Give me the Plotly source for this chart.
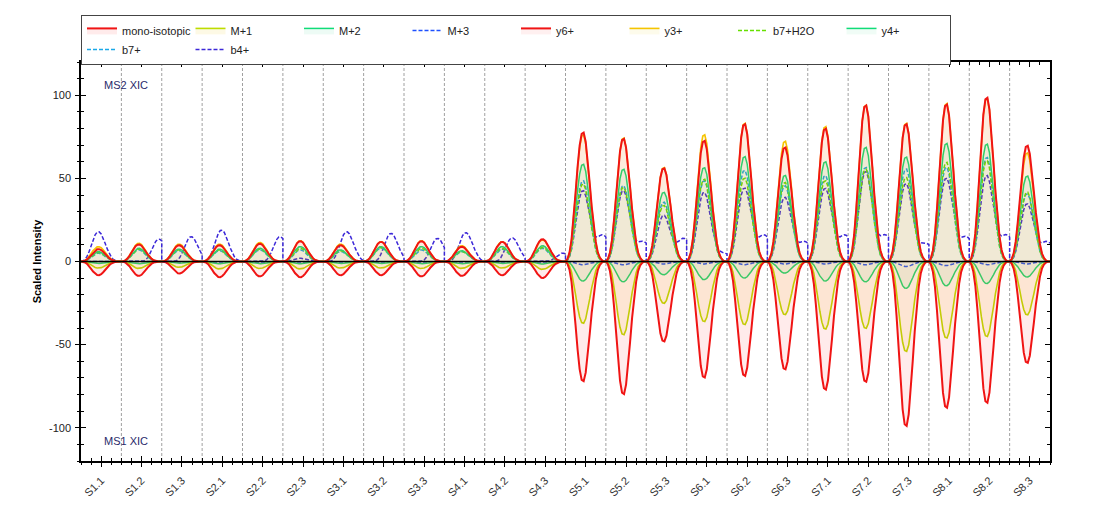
import numpy as np
import plotly.graph_objects as go

SAMPLES = ["S1.1", "S1.2", "S1.3", "S2.1", "S2.2", "S2.3", "S3.1", "S3.2", "S3.3",
           "S4.1", "S4.2", "S4.3", "S5.1", "S5.2", "S5.3", "S6.1", "S6.2", "S6.3",
           "S7.1", "S7.2", "S7.3", "S8.1", "S8.2", "S8.3"]

Y_TICKS = [-100, -50, 0, 50, 100]
Y_TICKTEXT = ["-100", "-50", "0", "50", "100"]

# normalised elution-peak profile across one sample slot
PROFILE = [0, 0.02, 0.07, 0.17, 0.33, 0.53, 0.73, 0.89, 0.98, 0.99, 0.92,
           0.78, 0.60, 0.42, 0.27, 0.15, 0.07, 0.03, 0.01, 0, 0]

# MS2 XIC (positive) peak apexes
Y6 = [7.5, 10.3, 9.8, 9.8, 10.7, 12.3, 9.8, 11.9, 12.3, 8.9, 11.9, 13.5,
      78.3, 74.5, 56.6, 73.3, 83.4, 69.3, 80.7, 94.8, 83.4, 95.4, 99.5, 70.3]
Y3 = [9.0, 11.0, 10.5, 10.5, 11.5, 12.5, 10.5, 12.0, 12.5, 9.5, 12.0, 13.0,
      77.0, 75.0, 57.0, 77.0, 84.0, 73.0, 82.0, 95.0, 84.0, 96.0, 99.0, 66.0]
B7H2O = [5.5, 7.5, 7.0, 7.0, 7.5, 8.0, 6.5, 8.5, 8.0, 6.0, 8.0, 8.5,
         47.0, 45.0, 34.0, 50.0, 50.6, 48.0, 49.0, 56.0, 51.0, 60.2, 61.2, 42.1]
Y4 = [6.0, 8.0, 7.5, 7.5, 8.0, 9.0, 7.0, 9.0, 9.0, 6.5, 9.0, 9.5,
      59.0, 56.0, 42.0, 57.0, 63.7, 52.3, 60.6, 69.3, 63.4, 71.7, 71.3, 51.9]
B7 = [5.0, 7.0, 6.5, 6.5, 7.0, 7.0, 6.0, 8.0, 7.0, 6.0, 7.5, 8.0,
      49.0, 46.0, 36.0, 49.0, 55.4, 46.0, 52.2, 57.1, 56.2, 57.2, 63.2, 41.1]
B4 = [18.0, 13.5, 15.0, 19.0, 15.0, 2.0, 18.0, 17.0, 14.0, 17.5, 14.3, 5.0,
      43.0, 43.0, 28.0, 42.0, 44.6, 39.0, 44.4, 54.6, 47.3, 50.6, 52.2, 35.0]
B4_SHIFT = [0, 10, 6, 1, 10, 0, 3, 5, 8, 2, 5, 10,
            0, 0, 0, 0, 0, 0, 0, 0, 0, 0, 0, 0]
B4_TAIL = [0, 0, 0, 0, 0, 0, 0, 0, 0, 0, 0, 0,
           16, 12, 14, 5, 16, 12, 16, 16, 11, 15, 16, 12]

# MS1 XIC (negative) peak apexes
MONO = [-8.3, -8.7, -7.3, -9.5, -9.0, -9.5, -8.3, -8.3, -9.0, -8.7, -8.3, -10.0,
        -72.7, -80.5, -48.5, -70.5, -69.5, -65.5, -77.8, -73.1, -99.9, -88.8, -85.8, -61.6]
M1 = [-4.0, -4.2, -3.5, -4.5, -4.3, -4.5, -4.0, -4.0, -4.3, -4.2, -4.0, -4.8,
      -37.5, -44.5, -25.4, -36.5, -38.3, -32.3, -41.0, -40.6, -54.6, -46.5, -45.5, -32.4]
M2 = [-1.2, -1.3, -1.0, -1.4, -1.3, -1.4, -1.2, -1.2, -1.3, -1.3, -1.2, -1.5,
      -11.8, -12.3, -8.0, -11.0, -10.0, -7.0, -11.9, -12.3, -16.3, -14.7, -13.3, -9.4]
M3 = [-0.3, -0.3, -0.3, -0.3, -0.3, -0.3, -0.3, -0.3, -0.3, -0.3, -0.3, -0.4,
      -2.0, -2.0, -1.5, -1.5, -2.0, -1.5, -1.5, -2.0, -3.0, -2.5, -2.0, -1.5]

T = np.linspace(0, 1, len(PROFILE))
N = len(PROFILE)


def shifted(s):
    return [0.0] * s + PROFILE[:N - s]


def build(heights, shifts=None, tails=None):
    xs, ys = [], []
    tail_prof = shifted(10)
    for i, h in enumerate(heights):
        prof = shifted(shifts[i] if shifts else 0)
        th = tails[i] if tails else 0
        for k, t in enumerate(T):
            xs.append(i + t)
            ys.append(h * prof[k] + th * tail_prof[k])
    return xs, ys


DASH = "4px,2px"
fig = go.Figure()

series = [
    # name, heights, color, dash, width, fill, rank, shifts, tails
    ("M+3", M3, "#1E50FF", DASH, 1.5, None, 4, None, None),
    ("M+2", M2, "#10DC78", None, 1.5, "rgba(0,200,110,0.07)", 3, None, None),
    ("M+1", M1, "#BEDC00", None, 1.6, "rgba(235,200,0,0.10)", 2, None, None),
    ("mono-isotopic", MONO, "#F01414", None, 2.0, "rgba(255,60,60,0.10)", 1, None, None),
    ("b4+", B4, "#3C28D8", DASH, 1.5, None, 10, B4_SHIFT, B4_TAIL),
    ("b7+", B7, "#1AA8E8", DASH, 1.5, None, 9, None, None),
    ("b7+H2O", B7H2O, "#66E000", DASH, 1.5, None, 7, None, None),
    ("y4+", Y4, "#10DC78", None, 1.5, "rgba(0,200,110,0.06)", 8, None, None),
    ("y3+", Y3, "#F5C400", None, 1.6, "rgba(235,200,0,0.08)", 6, None, None),
    ("y6+", Y6, "#F01414", None, 2.0, "rgba(255,60,60,0.08)", 5, None, None),
]

for name, h, color, dash, w, fill, rank, sh, tl in series:
    xs, ys = build(h, sh, tl)
    fig.add_trace(go.Scatter(
        x=xs, y=ys, name=name, mode="lines",
        line=dict(color=color, width=w, dash=dash),
        fill="tozeroy" if fill else None,
        fillcolor=fill,
        legendrank=rank,
        hoverinfo="skip",
    ))

# invisible trace so that the overlay axes render
fig.add_trace(go.Scatter(x=[0, len(SAMPLES)], y=[-120, 120], xaxis="x2", yaxis="y2",
                         mode="markers", marker=dict(opacity=0), showlegend=False,
                         hoverinfo="skip"))

# sample separators
for i in range(1, len(SAMPLES)):
    fig.add_shape(type="line", xref="x", yref="paper", x0=i, x1=i, y0=0, y1=1,
                  line=dict(color="#A0A0A0", width=1, dash="3px,2px"), layer="below")

# zero line
fig.add_shape(type="line", xref="paper", yref="y", x0=0, x1=1, y0=0, y1=0,
              line=dict(color="black", width=1.5), layer="above")

FONT = "Liberation Sans, Arial, sans-serif"
centers = [i + 0.5 for i in range(len(SAMPLES))]

fig.update_layout(
    width=1095, height=529,
    margin=dict(l=81, r=45, t=62, b=68),
    paper_bgcolor="white", plot_bgcolor="white",
    font=dict(family=FONT, size=11, color="#222"),
    showlegend=True,
    legend=dict(orientation="h", x=0, xanchor="left", y=1.118, yanchor="top",
                bordercolor="#444", borderwidth=1, bgcolor="white",
                font=dict(family=FONT, size=11, color="#222"),
                itemwidth=30, entrywidth=63.5, entrywidthmode="pixels",
                tracegroupgap=0, traceorder="normal"),
    xaxis=dict(range=[0, len(SAMPLES)], tickvals=centers, ticktext=SAMPLES,
               tickangle=-45, tickfont=dict(size=11, color="#333"),
               ticks="inside", ticklen=5, tickcolor="black", ticklabelstandoff=7,
               minor=dict(dtick=0.25, tick0=0, ticks="inside", ticklen=3, tickcolor="black"),
               showline=True, linecolor="black", linewidth=1.5, mirror="ticks",
               showgrid=False, zeroline=False),
    yaxis=dict(range=[-120, 120], tickvals=Y_TICKS, ticktext=Y_TICKTEXT,
               tickfont=dict(size=11, color="#222"),
               ticks="inside", ticklen=5, tickcolor="black", ticklabelstandoff=6,
               minor=dict(dtick=10, tick0=0, ticks="inside", ticklen=3, tickcolor="black"),
               showline=True, linecolor="black", linewidth=1.5, mirror="ticks",
               showgrid=False, zeroline=False,
               title=dict(text="<b>Scaled Intensity</b>", font=dict(size=11, color="black"),
                          standoff=5)),
    xaxis2=dict(overlaying="x", side="bottom", matches="x", range=[0, len(SAMPLES)],
                tickvals=centers, showticklabels=False,
                ticks="outside", ticklen=5, tickcolor="black",
                minor=dict(dtick=0.25, tick0=0, ticks="outside", ticklen=3, tickcolor="black"),
                showgrid=False, zeroline=False, showline=False),
    yaxis2=dict(overlaying="y", side="left", matches="y", range=[-120, 120],
                tickvals=Y_TICKS, showticklabels=False,
                ticks="outside", ticklen=5, tickcolor="black",
                minor=dict(dtick=10, tick0=0, ticks="outside", ticklen=3, tickcolor="black"),
                showgrid=False, zeroline=False, showline=False),
    annotations=[
        dict(text="MS2 XIC", xref="paper", yref="paper", x=0.022, y=0.942,
             xanchor="left", yanchor="middle", showarrow=False,
             font=dict(family=FONT, size=11, color="#2A2A6A")),
        dict(text="MS1 XIC", xref="paper", yref="paper", x=0.022, y=0.05,
             xanchor="left", yanchor="middle", showarrow=False,
             font=dict(family=FONT, size=11, color="#2A2A6A")),
    ],
)

fig.write_html("out.html")
